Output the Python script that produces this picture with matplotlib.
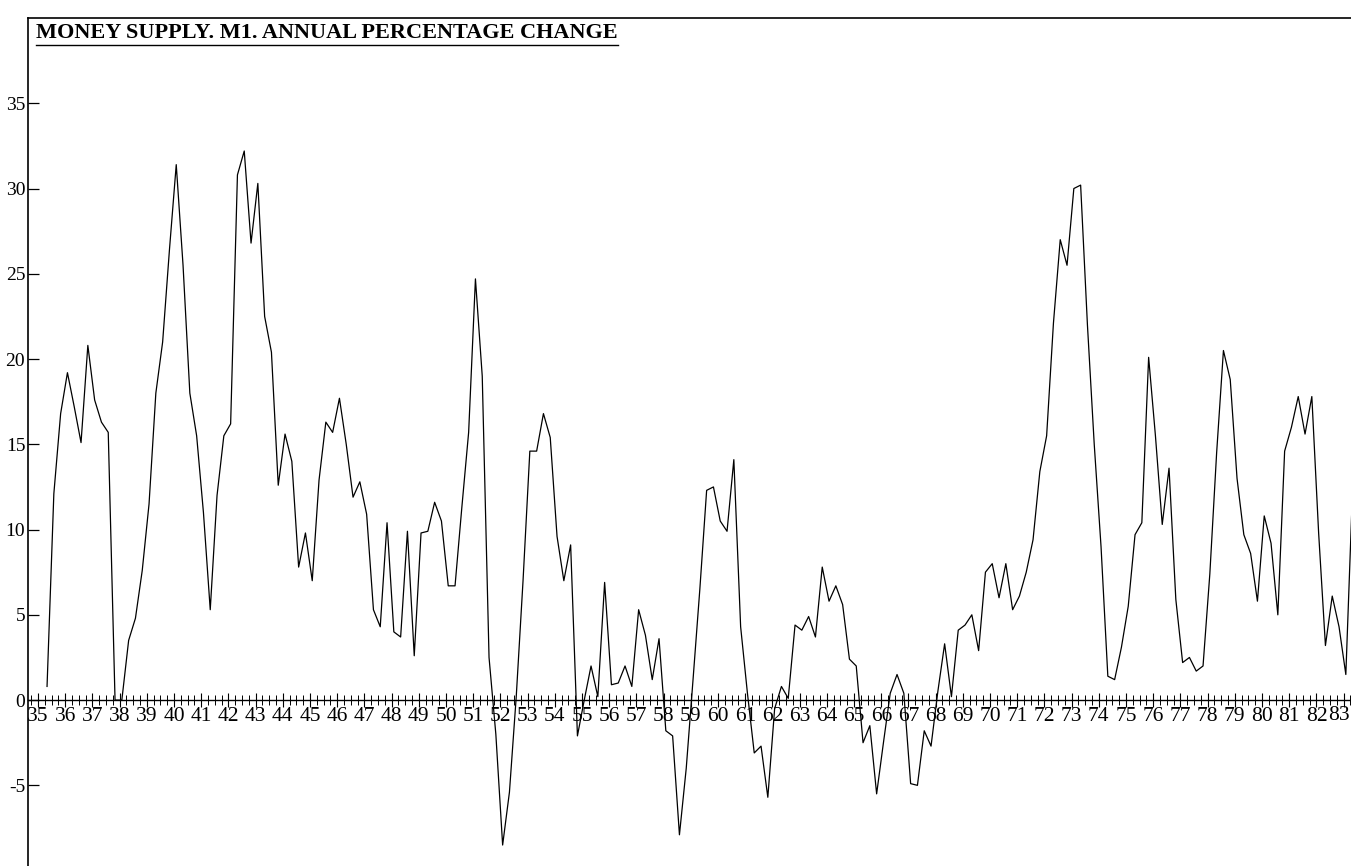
import numpy as np
import matplotlib
matplotlib.use("Agg")
from matplotlib import pyplot as plt
from matplotlib.ticker import MultipleLocator
from matplotlib.lines import Line2D

# quarterly M1 growth, % change on a year earlier
m1_change = [
    0.8, 12.1, 16.8, 19.2, 17.2, 15.1, 20.8, 17.6, 16.3, 15.7,
    0.0, 0.0, 3.5, 4.8, 7.6, 11.5, 18.0, 21.0, 26.4, 31.4,
    25.5, 18.0, 15.5, 11.0, 5.3, 12.0, 15.5, 16.2, 30.8, 32.2,
    26.8, 30.3, 22.5, 20.4, 12.6, 15.6, 14.0, 7.8, 9.8, 7.0,
    12.9, 16.3, 15.7, 17.7, 15.0, 11.9, 12.8, 10.9, 5.3, 4.3,
    10.4, 4.0, 3.7, 9.9, 2.6, 9.8, 9.9, 11.6, 10.5, 6.7,
    6.7, 11.3, 15.7, 24.7, 19.0, 2.5, -2.0, -8.5, -5.4, 0.2,
    7.0, 14.6, 14.6, 16.8, 15.4, 9.6, 7.0, 9.1, -2.1, 0.0,
    2.0, 0.2, 6.9, 0.9, 1.0, 2.0, 0.8, 5.3, 3.8, 1.2,
    3.6, -1.8, -2.1, -7.9, -4.0, 1.2, 6.5, 12.3, 12.5, 10.5,
    9.9, 14.1, 4.3, 0.4, -3.1, -2.7, -5.7, -0.5, 0.8, 0.1,
    4.4, 4.1, 4.9, 3.7, 7.8, 5.8, 6.7, 5.6, 2.4, 2.0,
    -2.5, -1.5, -5.5, -2.5, 0.4, 1.5, 0.4, -4.9, -5.0, -1.8,
    -2.7, 0.5, 3.3, 0.2, 4.1, 4.4, 5.0, 2.9, 7.5, 8.0,
    6.0, 8.0, 5.3, 6.1, 7.5, 9.4, 13.4, 15.5, 22.1, 27.0,
    25.5, 30.0, 30.2, 22.0, 15.0, 9.0, 1.4, 1.2, 3.1, 5.5,
    9.7, 10.4, 20.1, 15.5, 10.3, 13.6, 5.9, 2.2, 2.5, 1.7,
    2.0, 7.4, 14.5, 20.5, 18.8, 13.0, 9.7, 8.6, 5.8, 10.8,
    9.2, 5.0, 14.6, 16.0, 17.8, 15.6, 17.8, 9.8, 3.2, 6.1,
    4.3, 1.5, 12.5,
]
first_quarter = 35.33
years = list(range(35, 84))
year_labels = [str(y) for y in years]
y_ticks = [-5, 0, 5, 10, 15, 20, 25, 30, 35]
title = "MONEY SUPPLY. M1. ANNUAL PERCENTAGE CHANGE"

t = first_quarter + 0.25 * np.arange(len(m1_change))

serif = ["Liberation Serif", "DejaVu Serif"]
plt.rcParams["font.family"] = serif

fig = plt.figure(figsize=(13.51, 8.66), dpi=100)
ax = fig.add_axes([28 / 1351, 0, 1 - 28 / 1351, 848 / 866])

ax.plot(t, m1_change, color="black", lw=0.9)

ax.set_xlim(34.63, 83.27)
ax.set_ylim(-9.73, 40)

ax.spines["right"].set_visible(False)
ax.spines["bottom"].set_position(("data", 0))
ax.spines["bottom"].set_linewidth(1.0)
ax.spines["left"].set_linewidth(1.2)
ax.spines["top"].set_linewidth(1.2)

# the last year sits on the right edge: its label is drawn separately,
# nudged left so it stays inside the picture
ax.set_xticks(years)
ax.set_xticklabels(year_labels[:-1] + [""])
ax.annotate(year_labels[-1], xy=(years[-1], 0), xycoords="data",
            xytext=(-3.5, -4.5), textcoords="offset points",
            ha="center", va="top", fontsize=15.5)
ax.xaxis.set_minor_locator(MultipleLocator(0.25))
ax.tick_params(axis="x", which="major", direction="inout", length=10,
               width=0.8, labelsize=15.5, pad=0)
ax.tick_params(axis="x", which="minor", direction="inout", length=7,
               width=0.7)

ax.set_yticks(y_ticks)
ax.set_yticklabels([str(v) for v in y_ticks])
ax.tick_params(axis="y", direction="in", length=8, width=0.9,
               labelsize=14, pad=2)

txt = fig.text(36 / 1351, 1 - 38 / 866, title, fontsize=16,
               fontweight="bold", va="baseline", ha="left")
fig.canvas.draw()
bb = txt.get_window_extent().transformed(fig.transFigure.inverted())
fig.add_artist(Line2D([bb.x0, bb.x1], [bb.y0 - 1.5 / 866, bb.y0 - 1.5 / 866],
                      transform=fig.transFigure, color="black", lw=1.0))

fig.savefig("out.png", dpi=100)
